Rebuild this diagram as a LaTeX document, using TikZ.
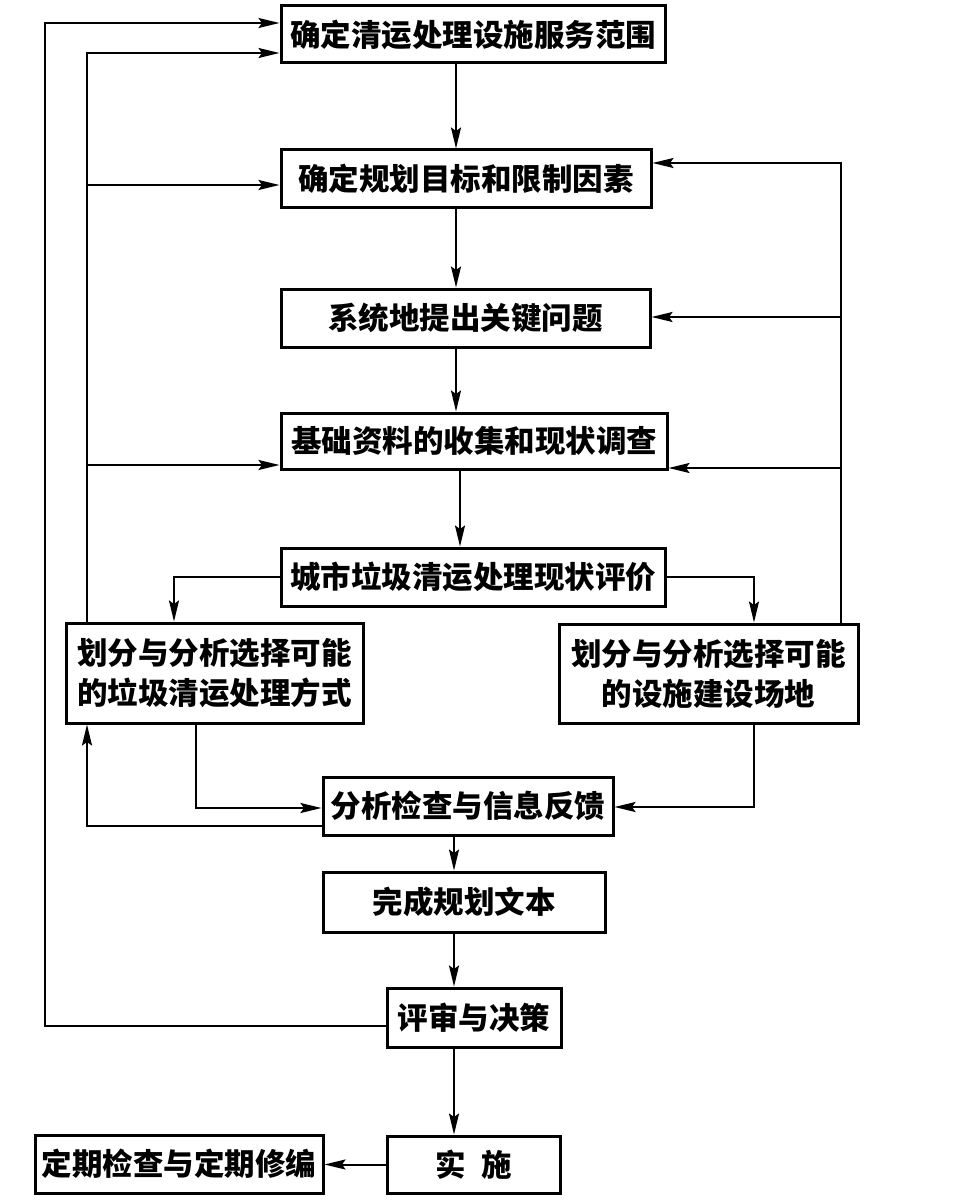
\documentclass[tikz,border=0pt]{standalone}
\usepackage{fontspec}
\newfontfamily\cjk{Noto Sans CJK SC}
\usetikzlibrary{arrows.meta}
\tikzset{
  box/.style={draw, line width=3pt, inner sep=0pt, align=center,
    font=\cjk\bfseries\fontsize{30.5}{40}\selectfont},
  arr/.style={line width=2pt, -{Stealth[length=21pt,width=10pt,inset=3.5pt]}},
  ln/.style={line width=2pt}
}
\begin{document}
\begin{tikzpicture}[x=1pt,y=-1pt]
\useasboundingbox (0,0) rectangle (960,1201);
\node[box, minimum width=384pt, minimum height=57pt] (b1) at (473,34.5) {确定清运处理设施服务范围};
\node[box, minimum width=370pt, minimum height=57pt] (b2) at (466,178.5) {确定规划目标和限制因素};
\node[box, minimum width=369pt, minimum height=58pt] (b3) at (465.5,318) {系统地提出关键问题};
\node[box, minimum width=386pt, minimum height=56pt] (b4) at (474,441) {基础资料的收集和现状调查};
\node[box, minimum width=384pt, minimum height=58pt] (b5) at (473,577) {城市垃圾清运处理现状评价};
\node[box, minimum width=297pt, minimum height=100pt] (b6) at (214.5,673) {划分与分析选择可能\\的垃圾清运处理方式};
\node[box, minimum width=299pt, minimum height=99pt] (b7) at (708.5,673.5) {划分与分析选择可能\\的设施建设场地};
\node[box, minimum width=290pt, minimum height=58pt] (b8) at (468,806) {分析检查与信息反馈};
\node[box, minimum width=282pt, minimum height=60pt] (b9) at (464,902) {完成规划文本};
\node[box, minimum width=174pt, minimum height=59pt] (b10) at (474,1017.5) {评审与决策};
\node[box, minimum width=173pt, minimum height=57pt] (b11) at (473.5,1164.5) {实\hspace{16pt}施};
\node[box, minimum width=288pt, minimum height=58pt] (b12) at (179,1164) {定期检查与定期修编};

\coordinate (L1) at (45,0);
\coordinate (L2) at (87,0);
\coordinate (R) at (841,0);
\coordinate (cx) at (456,0);
\coordinate (cxb) at (460,0);
\coordinate (cxc) at (454,0);

% main vertical chain
\draw[arr] (b1.south -| cx) -- (b2.north -| cx);
\draw[arr] (b2.south -| cx) -- (b3.north -| cx);
\draw[arr] (b3.south -| cx) -- (b4.north -| cx);
\draw[arr] (b4.south -| cxb) -- (b5.north -| cxb);
\draw[arr] (b8.south -| cxc) -- (b9.north -| cxc);
\draw[arr] (b9.south -| cxc) -- (b10.north -| cxc);
\draw[arr] (b10.south -| cxc) -- (b11.north -| cxc);
\draw[arr] (b11.west) -- (b11.west -| b12.east);

% split from b5
\draw[arr] (b5.west) -| ([xshift=-40.5pt]b6.north);
\draw[arr] (b5.east) -| ([xshift=45.5pt]b7.north);

% into b8
\draw[arr] ([xshift=-18.5pt]b6.south) |- ([yshift=-2pt]b8.west);
\draw[arr] ([xshift=45.5pt]b7.south) |- ([yshift=-1pt]b8.east);
\draw[arr] ([yshift=-20pt]b8.west) -| ([xshift=-127.5pt]b6.south);

% outer feedback from b10
\draw[arr] ([yshift=-8.5pt]b10.west) -| ([yshift=11.5pt]b1.west -| L1) -- ([yshift=11.5pt]b1.west);

% inner left feedback from b6
\draw[arr] ([xshift=-127.5pt]b6.north) |- ([yshift=-18.5pt]b1.west);
\draw[arr] ([yshift=-6.5pt]b2.west -| L2) -- ([yshift=-6.5pt]b2.west);
\draw[arr] ([yshift=-24pt]b4.west -| L2) -- ([yshift=-24pt]b4.west);

% right feedback from b7
\draw[arr] ([xshift=132.5pt]b7.north) |- ([yshift=15.5pt]b2.east);
\draw[arr] ([yshift=1pt]b3.east -| R) -- ([yshift=1pt]b3.east);
\draw[arr] ([yshift=-27pt]b4.east -| R) -- ([yshift=-27pt]b4.east);
\end{tikzpicture}
\end{document}
